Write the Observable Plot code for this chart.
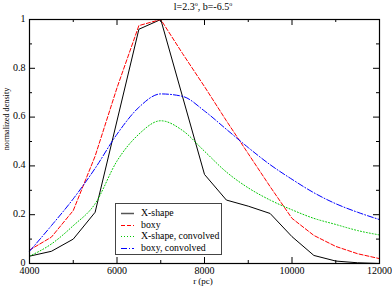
<!DOCTYPE html>
<html>
<head>
<meta charset="utf-8">
<script src="https://cdn.jsdelivr.net/npm/d3@7"></script>
<script src="https://cdn.jsdelivr.net/npm/@observablehq/plot@0.6"></script>
<style>
  html, body { margin: 0; padding: 0; background: #fff; }
  #wrap { position: relative; width: 392px; height: 287px; }
  #wrap, #wrap * , #wrap svg text { font-family: "Liberation Serif", "Times New Roman", serif !important; }
  #title { position: absolute; left: 0; width: 406px; top: 1px; text-align: center; font-size: 10px; line-height: 12px; }
  #title sup { font-size: 6px; vertical-align: 4px; line-height: 0; }
  #ylab { position: absolute; left: 7px; top: 119px; transform: translate(-50%, -50%) rotate(-90deg); font-size: 8.2px; white-space: nowrap; line-height: 10px; }
  #xlab { position: absolute; left: 0; width: 406px; top: 276px; text-align: center; font-size: 9px; line-height: 10px; }
  #legend { position: absolute; left: 115px; top: 203px; width: 107px; height: 52px; border: 1px solid #444; background: #fff; box-sizing: border-box; }
  #legend .row { position: absolute; left: 0; height: 12px; font-size: 9.8px; line-height: 12px; white-space: nowrap; }
  #legend svg { position: absolute; left: 4px; top: 0; }
  #legend span { position: absolute; left: 25px; top: 0; }
</style>
</head>
<body>
<div id="wrap">
  <div id="chart"></div>
  <div id="title">l=2.3<sup>o</sup>, b=-6.5<sup>o</sup></div>
  <div id="ylab">normalized density</div>
  <div id="xlab">r (pc)</div>
  <div id="legend"></div>
</div>
<script>
const r = [4000, 4500, 5000, 5500, 6000, 6500, 7000, 7500, 8000, 8500, 9000, 9500, 10000, 10500, 11000, 11500, 12000];
const xShapeR = [4000, 4500, 5000, 5500, 6500, 7000, 8000, 8500, 9000, 9500, 10000, 10500, 11000, 11500, 12000];
const xShape = [0.03, 0.05, 0.10, 0.21, 0.96, 1.0, 0.365, 0.26, 0.235, 0.205, 0.11, 0.033, 0.01, 0.003, 0.0];
const boxy = [0.055, 0.108, 0.217, 0.44, 0.72, 0.975, 1.0, 0.86, 0.725, 0.585, 0.45, 0.315, 0.185, 0.115, 0.07, 0.04, 0.02];
const xShapeConv = [0.03, 0.08, 0.155, 0.245, 0.42, 0.53, 0.585, 0.545, 0.46, 0.375, 0.31, 0.26, 0.22, 0.185, 0.16, 0.135, 0.117];
const boxyConv = [0.05, 0.155, 0.265, 0.39, 0.53, 0.64, 0.695, 0.685, 0.625, 0.55, 0.475, 0.405, 0.345, 0.29, 0.245, 0.21, 0.18];

const seriesNames = ["X-shape", "boxy", "X-shape, convolved", "boxy, convolved"];
const seriesColors = ["#000000", "#ff0000", "#00c800", "#0000ff"];
const seriesDash = [null, "4,2", "1,2", "6,2,1,2"];

const xTicksMajor = [4000, 6000, 8000, 10000, 12000];
const xTicksMinor = [5000, 7000, 9000, 11000];
const yTicksMajor = [0, 0.2, 0.4, 0.6, 0.8, 1];
const yTicksMinor = [0.1, 0.3, 0.5, 0.7, 0.9];

const rows = [];
xShapeR.forEach((x, i) => rows.push({s: seriesNames[0], r: x, v: xShape[i]}));
r.forEach((x, i) => rows.push({s: seriesNames[1], r: x, v: boxy[i]}));
r.forEach((x, i) => rows.push({s: seriesNames[2], r: x, v: xShapeConv[i]}));
r.forEach((x, i) => rows.push({s: seriesNames[3], r: x, v: boxyConv[i]}));

const W = 392, H = 287, mL = 29, mR = 13, mT = 19, mB = 24;
const pw = W - mL - mR, ph = H - mT - mB;
const maj = 6, mnr = 3;

const lineMarks = seriesNames.map((name, i) => Plot.line(rows.filter(d => d.s === name), {
  x: "r", y: "v", stroke: seriesColors[i], strokeWidth: 1,
  strokeDasharray: seriesDash[i] || undefined,
  curve: i >= 2 ? "monotone-x" : "linear"
}));

const chart = Plot.plot({
  width: W, height: H,
  marginLeft: mL, marginRight: mR, marginTop: mT, marginBottom: mB,
  style: {fontFamily: "'Liberation Serif', 'Times New Roman', serif", fontSize: "10px", background: "#fff", color: "#000"},
  x: {domain: [4000, 12000], label: null},
  y: {domain: [0, 1], label: null},
  marks: [
    ...lineMarks,
    Plot.tickX(xTicksMajor, {x: d => d, insetTop: ph - maj, stroke: "#000"}),
    Plot.tickX(xTicksMajor, {x: d => d, insetBottom: ph - maj, stroke: "#000"}),
    Plot.tickX(xTicksMinor, {x: d => d, insetTop: ph - mnr, stroke: "#000"}),
    Plot.tickX(xTicksMinor, {x: d => d, insetBottom: ph - mnr, stroke: "#000"}),
    Plot.tickY(yTicksMajor, {y: d => d, insetRight: pw - maj, stroke: "#000"}),
    Plot.tickY(yTicksMajor, {y: d => d, insetLeft: pw - maj, stroke: "#000"}),
    Plot.tickY(yTicksMinor, {y: d => d, insetRight: pw - mnr, stroke: "#000"}),
    Plot.tickY(yTicksMinor, {y: d => d, insetLeft: pw - mnr, stroke: "#000"}),
    Plot.axisX({ticks: xTicksMajor, tickSize: 0, tickPadding: 3, tickFormat: d => String(d), fontSize: 10, label: null}),
    Plot.axisY({ticks: yTicksMajor, tickSize: 0, tickPadding: 4, tickFormat: d => String(d), fontSize: 10, label: null, dy: -1}),
    Plot.frame({stroke: "#000", strokeWidth: 1.2})
  ]
});
document.getElementById("chart").appendChild(chart);

const leg = document.getElementById("legend");
const rowTops = [3, 14.5, 26, 37.5];
seriesNames.forEach((name, i) => {
  const row = document.createElement("div");
  row.className = "row";
  row.style.top = rowTops[i] + "px";
  const svgNS = "http://www.w3.org/2000/svg";
  const svg = document.createElementNS(svgNS, "svg");
  svg.setAttribute("width", 16); svg.setAttribute("height", 12);
  const ln = document.createElementNS(svgNS, "line");
  ln.setAttribute("x1", 1); ln.setAttribute("x2", 14); ln.setAttribute("y1", 6.5); ln.setAttribute("y2", 6.5);
  ln.setAttribute("stroke", seriesColors[i]);
  if (i === 0) { ln.setAttribute("stroke", "#555"); ln.setAttribute("stroke-width", 1.5); }
  if (seriesDash[i]) ln.setAttribute("stroke-dasharray", seriesDash[i]);
  svg.appendChild(ln);
  const sp = document.createElement("span");
  sp.textContent = name;
  row.appendChild(svg); row.appendChild(sp);
  leg.appendChild(row);
});
</script>
</body>
</html>
